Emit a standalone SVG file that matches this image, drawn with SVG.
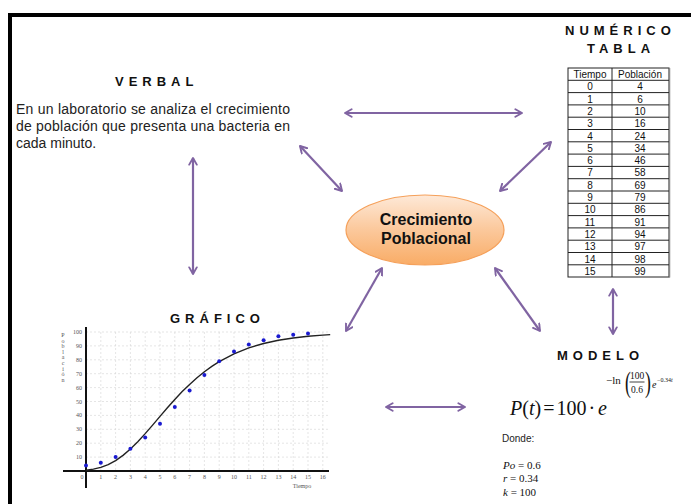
<svg xmlns="http://www.w3.org/2000/svg" width="691" height="504" viewBox="0 0 691 504">
  <defs>
    <linearGradient id="orangeFill" x1="0" y1="0" x2="0" y2="1">
      <stop offset="0" stop-color="#FEE9D8"/>
      <stop offset="0.5" stop-color="#FBC89B"/>
      <stop offset="1" stop-color="#F9AC66"/>
    </linearGradient>
    <marker id="chev" viewBox="0 0 10 10" refX="8" refY="5" markerWidth="4.3" markerHeight="4.3" orient="auto-start-reverse" markerUnits="strokeWidth">
      <path d="M1,1 L8,5 L1,9" fill="none" stroke="#8064A2" stroke-width="2" stroke-linecap="round" stroke-linejoin="round"/>
    </marker>
  </defs>
  <style>
    .title { font-family: "Liberation Sans", Arial, sans-serif; font-weight: bold; font-size: 13px; letter-spacing: 5px; fill: #111; }
    .body { font-family: "Liberation Sans", Arial, sans-serif; font-size: 14px; fill: #222; }
    .cell { font-family: "Liberation Sans", Arial, sans-serif; font-size: 10px; fill: #111; text-anchor: middle; }
    .conn { stroke: #8064A2; stroke-width: 2.2; fill: none; marker-start: url(#chev); marker-end: url(#chev); }
    .tick { font-family: "Liberation Serif", "Times New Roman", serif; font-size: 6px; fill: #555; }
    .grid { stroke: #d4d4d4; stroke-width: 0.6; stroke-dasharray: 2 2; fill: none; }
    .math { font-family: "Liberation Serif", "Times New Roman", serif; fill: #111; }
    .pt { fill: #1a1ad0; }
  </style>

  <rect width="691" height="504" fill="#ffffff"/>

  <!-- frame -->
  <rect x="8" y="13" width="683" height="4" fill="#000"/>
  <rect x="8" y="13" width="4" height="491" fill="#000"/>

  <!-- connectors -->
  <g id="connectors">
    <line class="conn" x1="345" y1="113" x2="522" y2="113"/>
    <line class="conn" x1="300" y1="146" x2="342" y2="191"/>
    <line class="conn" x1="551" y1="142" x2="500" y2="191"/>
    <line class="conn" x1="193" y1="158" x2="193" y2="274"/>
    <line class="conn" x1="382" y1="268" x2="346" y2="331"/>
    <line class="conn" x1="495" y1="268" x2="540" y2="331"/>
    <line class="conn" x1="386" y1="407" x2="465" y2="407"/>
    <line class="conn" x1="613" y1="289" x2="613" y2="334"/>
  </g>

  <!-- central concept -->
  <g id="crecimiento">
    <ellipse cx="425" cy="230" rx="79" ry="35" fill="url(#orangeFill)" stroke="#F5A05A" stroke-width="1.2"/>
    <text x="426" y="225" text-anchor="middle" font-family="Liberation Sans, Arial, sans-serif" font-weight="bold" font-size="16" fill="#111">Crecimiento</text>
    <text x="426" y="244" text-anchor="middle" font-family="Liberation Sans, Arial, sans-serif" font-weight="bold" font-size="16" fill="#111">Poblacional</text>
  </g>

  <!-- verbal description -->
  <g id="verbal">
    <text class="title" x="115" y="86">VERBAL</text>
    <text class="body" x="16" y="114" textLength="274" lengthAdjust="spacing">En un laboratorio se analiza el crecimiento</text>
    <text class="body" x="16" y="131" textLength="274" lengthAdjust="spacing">de población que presenta una bacteria en</text>
    <text class="body" x="16" y="148">cada minuto.</text>
  </g>

  <!-- numeric table -->
  <g id="numerico">
    <text class="title" x="565" y="35">NUMÉRICO</text>
    <text class="title" x="587" y="53">TABLA</text>
    <rect x="568" y="68" width="101" height="209" fill="#fff" stroke="#222" stroke-width="1"/>
    <line x1="669.5" y1="68" x2="669.5" y2="277.5" stroke="#888" stroke-width="1.5"/>
    <line x1="612" y1="68" x2="612" y2="277" stroke="#222" stroke-width="1"/>
    <path d="M568,80.3H669 M568,92.6H669 M568,104.9H669 M568,117.2H669 M568,129.5H669 M568,141.8H669 M568,154.1H669 M568,166.4H669 M568,178.7H669 M568,191H669 M568,203.3H669 M568,215.6H669 M568,227.9H669 M568,240.2H669 M568,252.5H669 M568,264.8H669" stroke="#222" stroke-width="1" fill="none"/>
    <text class="cell" x="590" y="78">Tiempo</text><text class="cell" x="640" y="78">Población</text>
    <text class="cell" x="590" y="90.3">0</text><text class="cell" x="640" y="90.3">4</text>
    <text class="cell" x="590" y="102.6">1</text><text class="cell" x="640" y="102.6">6</text>
    <text class="cell" x="590" y="114.9">2</text><text class="cell" x="640" y="114.9">10</text>
    <text class="cell" x="590" y="127.2">3</text><text class="cell" x="640" y="127.2">16</text>
    <text class="cell" x="590" y="139.5">4</text><text class="cell" x="640" y="139.5">24</text>
    <text class="cell" x="590" y="151.8">5</text><text class="cell" x="640" y="151.8">34</text>
    <text class="cell" x="590" y="164.1">6</text><text class="cell" x="640" y="164.1">46</text>
    <text class="cell" x="590" y="176.4">7</text><text class="cell" x="640" y="176.4">58</text>
    <text class="cell" x="590" y="188.7">8</text><text class="cell" x="640" y="188.7">69</text>
    <text class="cell" x="590" y="201">9</text><text class="cell" x="640" y="201">79</text>
    <text class="cell" x="590" y="213.3">10</text><text class="cell" x="640" y="213.3">86</text>
    <text class="cell" x="590" y="225.6">11</text><text class="cell" x="640" y="225.6">91</text>
    <text class="cell" x="590" y="237.9">12</text><text class="cell" x="640" y="237.9">94</text>
    <text class="cell" x="590" y="250.2">13</text><text class="cell" x="640" y="250.2">97</text>
    <text class="cell" x="590" y="262.5">14</text><text class="cell" x="640" y="262.5">98</text>
    <text class="cell" x="590" y="274.8">15</text><text class="cell" x="640" y="274.8">99</text>
  </g>

  <!-- graph -->
  <g id="grafico">
    <text class="title" x="170" y="323">GRÁFICO</text>
    <path class="grid" d="M100.8,332V471 M115.6,332V471 M130.4,332V471 M145.2,332V471 M160,332V471 M174.8,332V471 M189.6,332V471 M204.4,332V471 M219.2,332V471 M234,332V471 M248.8,332V471 M263.6,332V471 M278.4,332V471 M293.2,332V471 M308,332V471 M322.8,332V471"/>
    <path class="grid" d="M86,457.1H330 M86,443.2H330 M86,429.3H330 M86,415.4H330 M86,401.5H330 M86,387.6H330 M86,373.7H330 M86,359.8H330 M86,345.9H330 M86,332H330"/>
    <line x1="63" y1="471" x2="329" y2="471" stroke="#111" stroke-width="2"/>
    <line x1="86" y1="327" x2="86" y2="488" stroke="#111" stroke-width="2"/>
    <g class="tick" text-anchor="end">
      <text x="82" y="459">10</text>
      <text x="82" y="445">20</text>
      <text x="82" y="431">30</text>
      <text x="82" y="417">40</text>
      <text x="82" y="403.5">50</text>
      <text x="82" y="389.5">60</text>
      <text x="82" y="375.5">70</text>
      <text x="82" y="362">80</text>
      <text x="82" y="348">90</text>
      <text x="82" y="334">100</text>
    </g>
    <g class="tick" text-anchor="middle">
      <text x="82" y="479">0</text>
      <text x="100.8" y="479">1</text>
      <text x="115.6" y="479">2</text>
      <text x="130.4" y="479">3</text>
      <text x="145.2" y="479">4</text>
      <text x="160" y="479">5</text>
      <text x="174.8" y="479">6</text>
      <text x="189.6" y="479">7</text>
      <text x="204.4" y="479">8</text>
      <text x="219.2" y="479">9</text>
      <text x="234" y="479">10</text>
      <text x="248.8" y="479">11</text>
      <text x="263.6" y="479">12</text>
      <text x="278.4" y="479">13</text>
      <text x="293.2" y="479">14</text>
      <text x="308" y="479">15</text>
      <text x="322.8" y="479">16</text>
      <text x="302" y="488">Tiempo</text>
    </g>
    <text class="tick" font-size="5.5" text-anchor="middle" x="63" y="337"><tspan x="63">P</tspan><tspan x="63" dy="5.6">o</tspan><tspan x="63" dy="5.6">b</tspan><tspan x="63" dy="5.6">l</tspan><tspan x="63" dy="5.6">a</tspan><tspan x="63" dy="5.6">c</tspan><tspan x="63" dy="5.6">i</tspan><tspan x="63" dy="5.6">ó</tspan><tspan x="63" dy="5.6">n</tspan></text>
    <path d="M86,470.2 L93.4,469.1 L100.8,467.4 L108.2,464.6 L115.6,460.6 L123,455.4 L130.4,449 L137.8,441.7 L145.2,433.6 L152.6,425.1 L160,416.4 L167.4,407.8 L174.8,399.5 L182.2,391.6 L189.6,384.4 L197,377.8 L204.4,371.8 L211.8,366.4 L219.2,361.6 L234,353.8 L248.8,347.9 L263.6,343.5 L278.4,340.3 L293.2,338 L308,336.3 L322.8,335.1 L330.2,334.6" fill="none" stroke="#222" stroke-width="1.4" stroke-linejoin="round"/>
    <g class="pt">
      <circle cx="86" cy="465.4" r="2"/>
      <circle cx="100.8" cy="462.7" r="2"/>
      <circle cx="115.6" cy="457.1" r="2"/>
      <circle cx="130.4" cy="448.8" r="2"/>
      <circle cx="145.2" cy="437.6" r="2"/>
      <circle cx="160" cy="423.7" r="2"/>
      <circle cx="174.8" cy="407.1" r="2"/>
      <circle cx="189.6" cy="390.4" r="2"/>
      <circle cx="204.4" cy="375.1" r="2"/>
      <circle cx="219.2" cy="361.2" r="2"/>
      <circle cx="234" cy="351.5" r="2"/>
      <circle cx="248.8" cy="344.5" r="2"/>
      <circle cx="263.6" cy="340.3" r="2"/>
      <circle cx="278.4" cy="336.2" r="2"/>
      <circle cx="293.2" cy="334.8" r="2"/>
      <circle cx="308" cy="333.4" r="2"/>
    </g>
  </g>

  <!-- model -->
  <g id="modelo">
    <text class="title" x="557" y="360" letter-spacing="4">MODELO</text>
    <text class="math" x="510" y="415" font-size="20"><tspan font-style="italic">P</tspan>(<tspan font-style="italic">t</tspan>)<tspan dx="2">=</tspan><tspan dx="2">100</tspan><tspan dx="2">·</tspan><tspan dx="3" font-style="italic">e</tspan></text>
    <text class="math" x="606" y="384" font-size="11">−ln</text>
    <text class="math" font-size="22" transform="translate(625,392) scale(0.8,1.35)">(</text>
    <text class="math" x="637" y="378.5" font-size="9.5" text-anchor="middle">100</text>
    <line x1="629.5" y1="382" x2="644.5" y2="382" stroke="#111" stroke-width="0.8"/>
    <text class="math" x="637" y="392.5" font-size="9.5" text-anchor="middle">0.6</text>
    <text class="math" font-size="22" transform="translate(645,392) scale(0.8,1.35)">)</text>
    <text class="math" x="652" y="388" font-size="10" font-style="italic">e</text>
    <text class="math" x="657" y="382" font-size="6">−0.34<tspan font-style="italic">t</tspan></text>
    <text x="502" y="442" font-family="Liberation Sans, Arial, sans-serif" font-size="10" fill="#222">Donde:</text>
    <text class="math" x="503" y="469" font-size="11"><tspan font-style="italic">Po</tspan> = 0.6</text>
    <text class="math" x="503" y="482" font-size="11"><tspan font-style="italic">r</tspan> = 0.34</text>
    <text class="math" x="503" y="496" font-size="11"><tspan font-style="italic">k</tspan> = 100</text>
  </g>
</svg>
